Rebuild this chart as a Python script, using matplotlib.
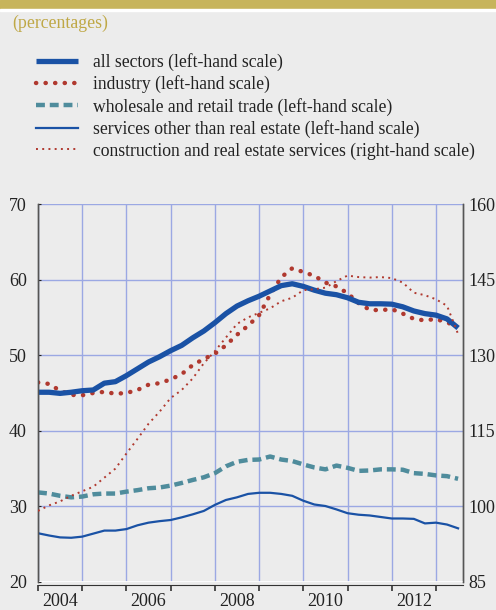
import numpy as np
import matplotlib
matplotlib.use("Agg")
import matplotlib.pyplot as plt
from matplotlib.patches import Rectangle

plt.rcParams['font.family'] = ['Liberation Serif', 'DejaVu Serif']

# quarterly observations, 2004 Q1 .. 2013 Q3
years = 2004.0 + 0.25 * np.arange(39)

all_sectors = [45.1, 45.1, 44.95, 45.1, 45.3, 45.4, 46.3, 46.5, 47.3, 48.2,
               49.1, 49.8, 50.6, 51.3, 52.3, 53.2, 54.3, 55.5, 56.5, 57.2,
               57.8, 58.5, 59.2, 59.45, 59.1, 58.6, 58.2, 58.0, 57.6, 57.0,
               56.8, 56.8, 56.75, 56.4, 55.85, 55.5, 55.3, 54.8, 53.6]
industry = [46.4, 46.2, 45.3, 44.75, 44.7, 45.0, 45.15, 44.9, 45.0, 45.4,
            46.1, 46.3, 46.8, 47.5, 48.7, 49.5, 50.2, 51.3, 52.7, 53.9,
            55.3, 58.0, 60.3, 61.5, 61.0, 60.5, 59.6, 59.1, 58.2, 56.9,
            56.0, 55.95, 56.1, 55.5, 54.8, 54.6, 54.8, 54.3, 53.9]
wholesale = [31.85, 31.7, 31.4, 31.2, 31.3, 31.6, 31.7, 31.7, 31.95, 32.15,
             32.4, 32.5, 32.75, 33.1, 33.5, 33.85, 34.4, 35.3, 35.9, 36.15,
             36.2, 36.6, 36.2, 36.0, 35.55, 35.15, 34.9, 35.4, 35.1, 34.7,
             34.75, 34.9, 34.9, 34.85, 34.4, 34.3, 34.1, 34.0, 33.65]
services = [26.45, 26.15, 25.9, 25.85, 26.0, 26.4, 26.8, 26.8, 27.0, 27.5,
            27.85, 28.05, 28.2, 28.55, 28.95, 29.4, 30.2, 30.85, 31.2, 31.65,
            31.8, 31.8, 31.65, 31.4, 30.75, 30.25, 30.05, 29.6, 29.1, 28.9,
            28.8, 28.6, 28.4, 28.4, 28.35, 27.75, 27.85, 27.6, 27.1]
construction = [99.1, 100.2, 101.0, 102.1, 103.0, 103.9, 105.7, 107.5, 110.5, 113.4,
                116.4, 118.8, 121.5, 123.1, 125.4, 128.4, 130.8, 133.5, 136.2, 137.5,
                138.4, 139.3, 140.7, 141.4, 142.9, 143.1, 143.4, 144.7, 145.8, 145.5,
                145.4, 145.5, 145.3, 144.4, 142.4, 141.9, 141.1, 139.8, 134.2]

labels = ["all sectors (left-hand scale)",
          "industry (left-hand scale)",
          "wholesale and retail trade (left-hand scale)",
          "services other than real estate (left-hand scale)",
          "construction and real estate services (right-hand scale)"]
year_labels = ["2004", "2006", "2008", "2010", "2012"]

bg = "#ececec"
blue = "#1a52a5"
red = "#b0392f"
teal = "#4f8c9c"
gridc = "#9ba8e3"
gold = "#c7b45b"

fig = plt.figure(figsize=(4.96, 6.10), dpi=100, facecolor=bg)

# header band
fig.patches.append(Rectangle((0, 1 - 9 / 610), 1, 9 / 610, transform=fig.transFigure,
                             color=gold, zorder=0))
fig.patches.append(Rectangle((0, 1 - 11 / 610), 1, 2 / 610, transform=fig.transFigure,
                             color="white", zorder=0))
fig.text(12 / 496, 1 - 23 / 610, "(percentages)", color="#bfa846", fontsize=12.8,
         va="center", ha="left")

ax = fig.add_axes([38 / 496, 1 - 582 / 610, 424.5 / 496, 378 / 610])
ax.set_facecolor(bg)
ax2 = ax.twinx()

l1, = ax.plot(years, all_sectors, color=blue, lw=3.8, solid_capstyle="butt", zorder=5)
l2, = ax.plot(years, industry, color=red, lw=3.2, linestyle=(0, (0.05, 2.1)),
              dash_capstyle="round", zorder=4)
l3, = ax.plot(years, wholesale, color=teal, lw=3.2, linestyle=(0, (2.0, 1.1)), zorder=4)
l4, = ax.plot(years, services, color=blue, lw=1.6, zorder=4)
l5, = ax2.plot(years, construction, color=red, lw=1.4, linestyle=(0, (1.0, 2.2)), zorder=4)

ax.set_xlim(2004.0, 2013.6)
ax.set_ylim(20, 70)
ax2.set_ylim(85, 160)
ax.set_yticks([20, 30, 40, 50, 60, 70])
ax2.set_yticks([85, 100, 115, 130, 145, 160])

ax.set_xticks(np.arange(2004, 2014))
ax.set_xticklabels([])
ax.set_xticks([int(y) + 0.5 for y in year_labels], minor=True)
ax.set_xticklabels(year_labels, minor=True)
ax.tick_params(axis="x", which="minor", length=0, pad=6, labelsize=13, colors="#222222")
ax.tick_params(axis="x", which="major", length=4, width=1.2, color="#333333", direction="out")
ax.tick_params(axis="y", length=2, direction="in", pad=8, labelsize=13, colors="#222222")
ax2.tick_params(axis="y", length=0, pad=4, labelsize=13, colors="#222222")

ax.grid(True, which="major", color=gridc, lw=1.0)
ax.set_axisbelow(True)
ax.axhline(20, color="white", lw=2.0, zorder=3)

for a in (ax, ax2):
    a.spines["top"].set_visible(False)
    a.spines["left"].set_color("#555555")
    a.spines["right"].set_color("#555555")
    a.spines["bottom"].set_color("#333333")
    a.spines["left"].set_linewidth(1.0)
    a.spines["right"].set_linewidth(1.0)
ax.spines["bottom"].set_position(("outward", 2))
ax2.spines["bottom"].set_visible(False)

fig.legend([l1, l2, l3, l4, l5], labels, loc="upper left",
           bbox_to_anchor=(36 / 496, 1 - 53 / 610), frameon=False, fontsize=12.7,
           handlelength=2.4, handletextpad=0.85, labelspacing=0.25,
           borderpad=0, borderaxespad=0, labelcolor="#222222")

fig.savefig("out.png", dpi=100, facecolor=bg)
